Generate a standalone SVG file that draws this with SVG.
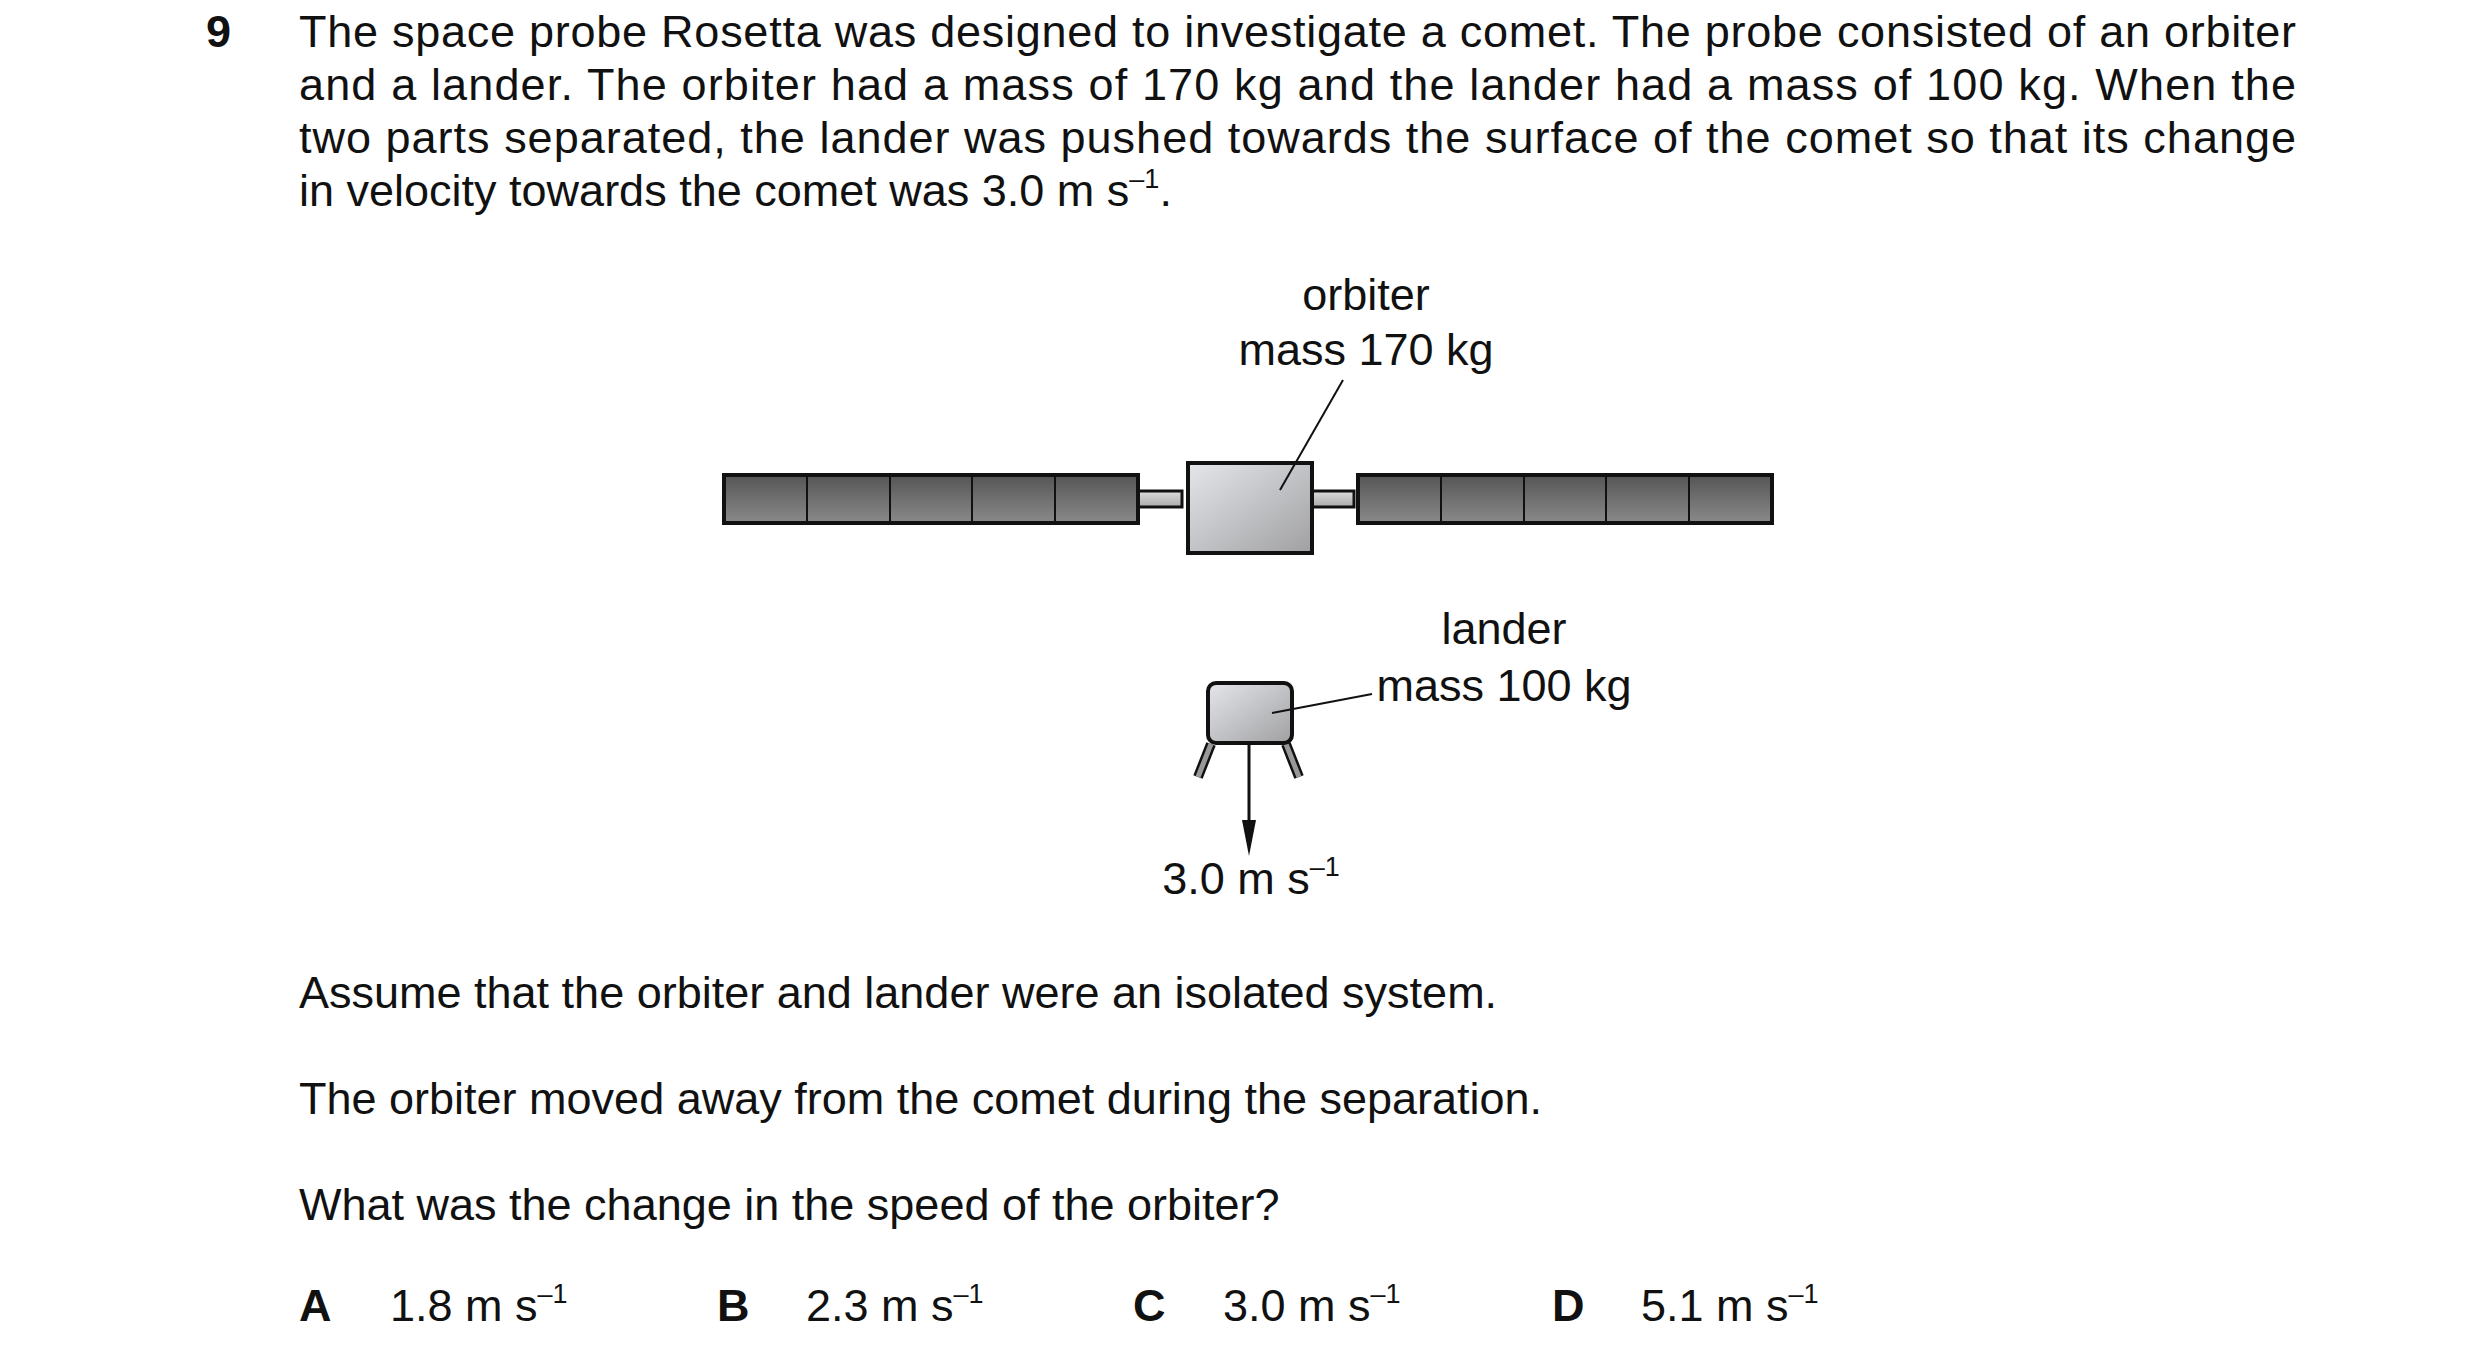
<svg xmlns="http://www.w3.org/2000/svg" width="2480" height="1349" viewBox="0 0 2480 1349">
<style>
text{font-family:"Liberation Sans",Arial,sans-serif;font-size:45px;fill:#111}
.b{font-weight:bold}
.sup{font-size:27px}
.ln{stroke:#111;stroke-width:2;fill:none}
.panel{fill:url(#gp);stroke:#111;stroke-width:4}
.cell{stroke:#111;stroke-width:2}
</style>
<defs>
<linearGradient id="gp" x1="0" y1="0" x2="0" y2="1"><stop offset="0" stop-color="#555"/><stop offset="1" stop-color="#8a8a8a"/></linearGradient>
<linearGradient id="gb" x1="0" y1="0" x2="1" y2="1"><stop offset="0" stop-color="#e4e6ea"/><stop offset="1" stop-color="#a0a0a2"/></linearGradient>
<linearGradient id="gbar" x1="0" y1="0" x2="0" y2="1"><stop offset="0" stop-color="#ddd"/><stop offset="1" stop-color="#aaa"/></linearGradient>
</defs>
<text class="b" x="206" y="47">9</text>
<text x="299" y="47" textLength="1997" lengthAdjust="spacing">The space probe Rosetta was designed to investigate a comet. The probe consisted of an orbiter</text>
<text x="299" y="100" textLength="1997" lengthAdjust="spacing">and a lander. The orbiter had a mass of 170 kg and the lander had a mass of 100 kg. When the</text>
<text x="299" y="153" textLength="1997" lengthAdjust="spacing">two parts separated, the lander was pushed towards the surface of the comet so that its change</text>
<text x="299" y="206">in velocity towards the comet was 3.0 m s<tspan class="sup" dy="-18">–1</tspan><tspan dy="18">.</tspan></text>

<g id="orbiter">
<rect x="1134" y="491" width="48" height="16" fill="url(#gbar)" stroke="#111" stroke-width="3"/>
<rect x="1306" y="491" width="48" height="16" fill="url(#gbar)" stroke="#111" stroke-width="3"/>
<rect class="panel" x="724" y="475" width="414" height="48"/>
<g class="cell"><line x1="807" y1="475" x2="807" y2="523"/><line x1="890" y1="475" x2="890" y2="523"/><line x1="972" y1="475" x2="972" y2="523"/><line x1="1055" y1="475" x2="1055" y2="523"/></g>
<rect class="panel" x="1358" y="475" width="414" height="48"/>
<g class="cell"><line x1="1441" y1="475" x2="1441" y2="523"/><line x1="1524" y1="475" x2="1524" y2="523"/><line x1="1606" y1="475" x2="1606" y2="523"/><line x1="1689" y1="475" x2="1689" y2="523"/></g>
<rect x="1188" y="463" width="124" height="90" fill="url(#gb)" stroke="#111" stroke-width="4"/>
<text x="1366" y="310" text-anchor="middle">orbiter</text>
<text x="1366" y="365" text-anchor="middle">mass 170 kg</text>
</g>

<g id="lander">
<path d="M1211,744 L1198,777" stroke="#111" stroke-width="10"/>
<path d="M1211,744 L1198,777" stroke="#999" stroke-width="5"/>
<path d="M1286,744 L1299,777" stroke="#111" stroke-width="10"/>
<path d="M1286,744 L1299,777" stroke="#999" stroke-width="5"/>
<rect x="1208" y="683" width="84" height="60" rx="8" fill="url(#gb)" stroke="#111" stroke-width="4"/>
<text x="1504" y="644" text-anchor="middle">lander</text>
<text x="1504" y="701" text-anchor="middle">mass 100 kg</text>
<text x="1251" y="894" text-anchor="middle">3.0 m s<tspan class="sup" dy="-18">–1</tspan></text>
</g>

<g id="connectors">
<line class="ln" x1="1343" y1="380" x2="1280" y2="490"/>
<line class="ln" x1="1272" y1="713" x2="1372" y2="694"/>
<line x1="1249" y1="744" x2="1249" y2="825" stroke="#111" stroke-width="3"/>
<path d="M1242,820 L1256,820 L1249,856 Z" fill="#111"/>
</g>

<text x="299" y="1008">Assume that the orbiter and lander were an isolated system.</text>
<text x="299" y="1114">The orbiter moved away from the comet during the separation.</text>
<text x="299" y="1220">What was the change in the speed of the orbiter?</text>
<g id="options">
<text class="b" x="299" y="1321">A</text><text x="390" y="1321">1.8 m s<tspan class="sup" dy="-18">–1</tspan></text>
<text class="b" x="717" y="1321">B</text><text x="806" y="1321">2.3 m s<tspan class="sup" dy="-18">–1</tspan></text>
<text class="b" x="1133" y="1321">C</text><text x="1223" y="1321">3.0 m s<tspan class="sup" dy="-18">–1</tspan></text>
<text class="b" x="1552" y="1321">D</text><text x="1641" y="1321">5.1 m s<tspan class="sup" dy="-18">–1</tspan></text>
</g>
</svg>
